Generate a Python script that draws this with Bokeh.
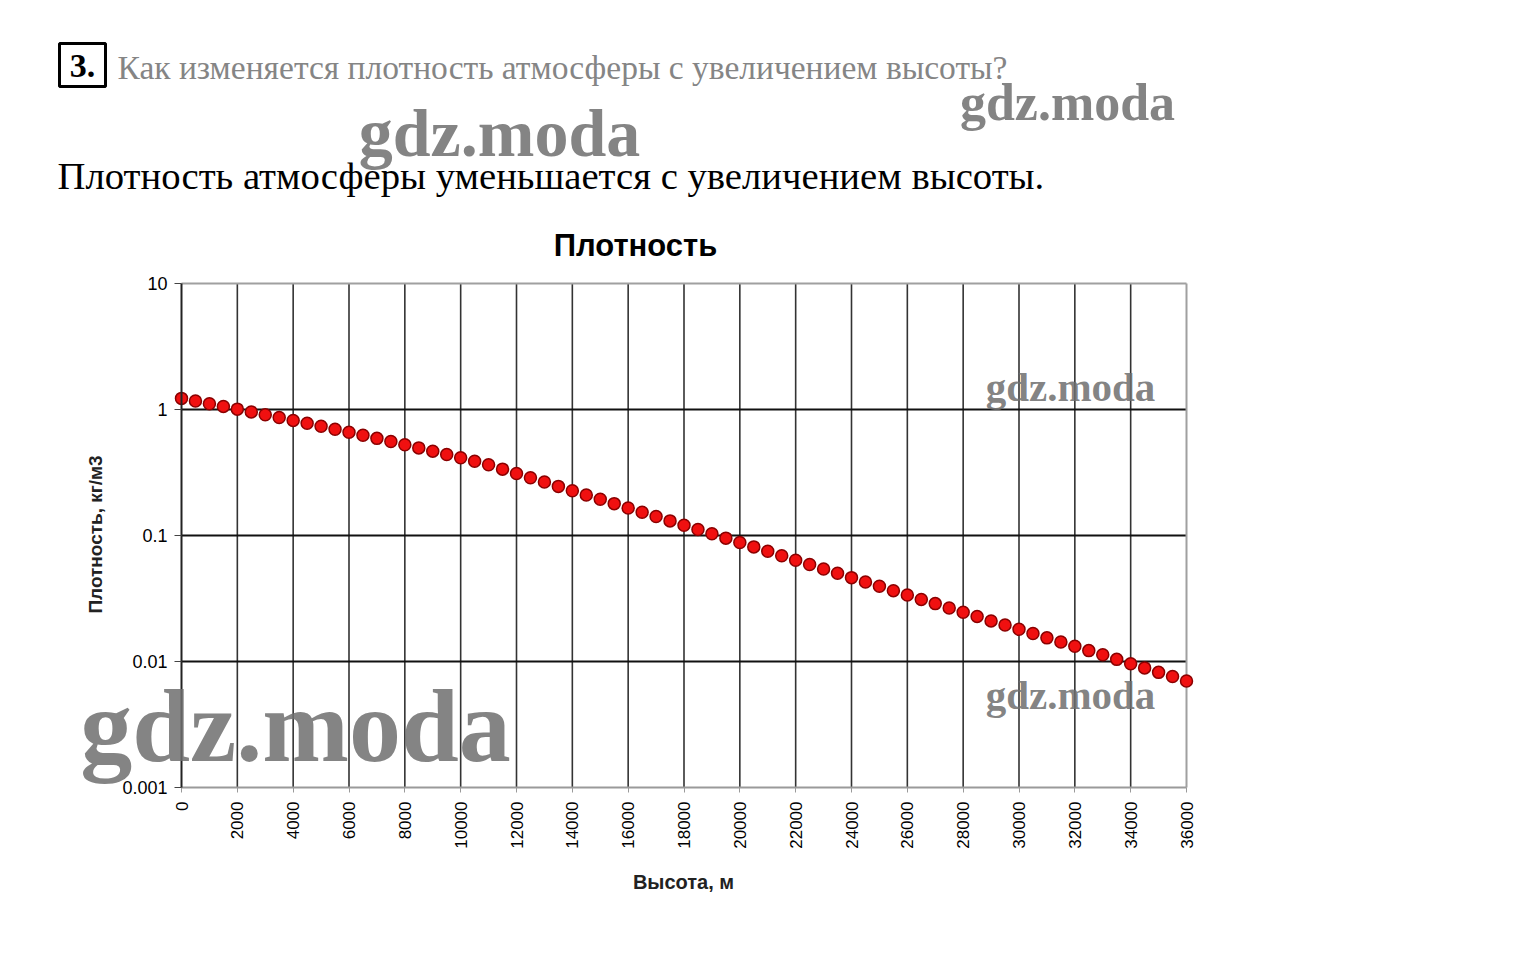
import math
from bokeh.plotting import figure
from bokeh.models import FixedTicker, CustomJSTickFormatter, Label, Range1d, ColumnDataSource
from bokeh.core.properties import value
from bokeh.embed import file_html
from bokeh.resources import INLINE

# ---- data ----
altitude_m = [0, 500, 1000, 1500, 2000, 2500, 3000, 3500, 4000, 4500, 5000, 5500,
              6000, 6500, 7000, 7500, 8000, 8500, 9000, 9500, 10000, 10500, 11000, 11500,
              12000, 12500, 13000, 13500, 14000, 14500, 15000, 15500, 16000, 16500, 17000, 17500,
              18000, 18500, 19000, 19500, 20000, 20500, 21000, 21500, 22000, 22500, 23000, 23500,
              24000, 24500, 25000, 25500, 26000, 26500, 27000, 27500, 28000, 28500, 29000, 29500,
              30000, 30500, 31000, 31500, 32000, 32500, 33000, 33500, 34000, 34500, 35000, 35500,
              36000]
density_kg_m3 = [1.2250, 1.1673, 1.1117, 1.0581, 1.0066, 0.9569, 0.9093, 0.8634, 0.8194, 0.7770,
                 0.7364, 0.6975, 0.6601, 0.6243, 0.5900, 0.5572, 0.5258, 0.4958, 0.4671, 0.4397,
                 0.4135, 0.3886, 0.3639, 0.3363, 0.3109, 0.2873, 0.2655, 0.2454, 0.2268, 0.2096,
                 0.1937, 0.1790, 0.1655, 0.1529, 0.1413, 0.1306, 0.1207, 0.1116, 0.1031, 0.0953,
                 0.0881, 0.0812, 0.0749, 0.0691, 0.0637, 0.0588, 0.0543, 0.0501, 0.0463, 0.0427,
                 0.0395, 0.0365, 0.0337, 0.0311, 0.0288, 0.0266, 0.0246, 0.0228, 0.0210, 0.0195,
                 0.0180, 0.0167, 0.0154, 0.0143, 0.0132, 0.0122, 0.0113, 0.0104, 0.0096, 0.0089,
                 0.0082, 0.0076, 0.0070]
x_ticks = [0, 2000, 4000, 6000, 8000, 10000, 12000, 14000, 16000, 18000, 20000, 22000,
           24000, 26000, 28000, 30000, 32000, 34000, 36000]
y_ticks = [0.001, 0.01, 0.1, 1, 10]
x_min, x_max = 0, 36000
y_min, y_max = 0.001, 10

chart_title = "Плотность"
x_label = "Высота, м"
y_label = "Плотность, кг/м3"
task_number = "3."
question = "Как изменяется плотность атмосферы с увеличением высоты?"
answer = "Плотность атмосферы уменьшается с увеличением высоты."
watermark = "gdz.moda"

W = 1524
HH = 270          # header figure height
CH = 692          # chart figure height

# ---------------- header figure (page-pixel coordinates, y downward) ----------------
h = figure(width=W, height=HH, output_backend="svg", toolbar_location=None,
           x_range=Range1d(0, W), y_range=Range1d(HH, 0),
           min_border=0, min_border_left=0, min_border_right=0, min_border_top=0, min_border_bottom=0)
h.axis.visible = False
h.grid.visible = False
h.outline_line_color = None
h.background_fill_color = "white"
h.border_fill_color = "white"


def htext(txt, X, Y, size, color="black", font="Liberation Serif", style="normal",
          align="left", alpha=1.0):
    h.text(x=[X], y=[Y], text=[txt], text_font=value(font), text_font_size=f"{size}px",
           text_color=color, text_font_style=style, text_align=align,
           text_baseline="middle", text_alpha=alpha)


h.quad(left=[59], right=[105], top=[43], bottom=[86], fill_color=None,
       line_color="black", line_width=3)
htext(task_number, 82, 65, 34, style="bold", align="center")
htext(question, 117, 67, 33.5, color="#858585")
htext(watermark, 499, 132, 68, color="#6e6e6e", style="bold", align="center", alpha=0.85)
htext(watermark, 1067, 102, 52, color="#6e6e6e", style="bold", align="center", alpha=0.85)
htext(answer, 57, 175, 38.7)
htext(chart_title, 635, 245, 31, font="Liberation Sans", style="bold", align="center")

# ---------------- chart figure ----------------
# page-pixel layout of the plot box; the frame covers the whole chart figure
BOX_L, BOX_R, BOX_T, BOX_B = 181, 1186, 283, 787
FL, FR, FT, FB = 0, W, HH, HH + CH
px_per_x = (BOX_R - BOX_L) / (x_max - x_min)
px_per_dec = (BOX_B - BOX_T) / (math.log10(y_max) - math.log10(y_min))
xr = Range1d(x_min - (BOX_L - FL) / px_per_x, x_max + (FR - BOX_R) / px_per_x)
yr = Range1d(10 ** (math.log10(y_min) - (FB - BOX_B) / px_per_dec),
             10 ** (math.log10(y_max) + (BOX_T - FT) / px_per_dec))

p = figure(width=W, height=CH, output_backend="svg", toolbar_location=None,
           y_axis_type="log", x_range=xr, y_range=yr,
           min_border=0, min_border_left=0, min_border_top=0, min_border_right=0,
           min_border_bottom=0)
p.background_fill_color = "white"
p.border_fill_color = "white"
p.outline_line_color = None
p.xgrid.visible = False
p.ygrid.visible = False

# grid lines and plot box, limited to the plot box
inner_x = x_ticks[1:-1]
inner_y = y_ticks[1:-1]
p.segment(x0=inner_x, x1=inner_x, y0=[y_min] * len(inner_x), y1=[y_max] * len(inner_x),
          line_color="#333333", line_width=1.6)
p.segment(x0=[x_min] * len(inner_y), x1=[x_max] * len(inner_y), y0=inner_y, y1=inner_y,
          line_color="#111111", line_width=1.8)
p.segment(x0=[x_min, x_max], x1=[x_max, x_max], y0=[y_max, y_min], y1=[y_max, y_max],
          line_color="#a0a0a0", line_width=2)

# axes
p.xaxis.fixed_location = y_min
p.xaxis.bounds = (x_min, x_max)
p.xaxis.ticker = FixedTicker(ticks=x_ticks)
p.xaxis.major_label_orientation = math.pi / 2
p.xaxis.minor_tick_line_color = None
p.xaxis.axis_line_color = "#9a9a9a"
p.xaxis.axis_line_width = 2
p.xaxis.major_tick_line_color = "#9a9a9a"
p.xaxis.major_tick_out = 5
p.xaxis.major_tick_in = 0
p.xaxis.major_label_text_font = "Liberation Sans"
p.xaxis.major_label_text_font_size = "17px"
p.xaxis.major_label_text_color = "black"
p.xaxis.major_label_standoff = 9

p.yaxis.fixed_location = x_min
p.yaxis.bounds = (y_min, y_max)
p.yaxis.ticker = FixedTicker(ticks=y_ticks, minor_ticks=[])
p.yaxis.formatter = CustomJSTickFormatter(code="return tick.toString();")
p.yaxis.axis_line_color = "#222222"
p.yaxis.axis_line_width = 2
p.yaxis.major_tick_line_color = "#444444"
p.yaxis.major_tick_out = 7
p.yaxis.major_tick_in = 0
p.yaxis.minor_tick_line_color = None
p.yaxis.major_label_text_font = "Liberation Sans"
p.yaxis.major_label_text_font_size = "18px"
p.yaxis.major_label_text_color = "black"
p.yaxis.major_label_standoff = 7

src = ColumnDataSource(data=dict(x=altitude_m, y=density_kg_m3))
p.scatter("x", "y", source=src, size=12, fill_color="#f01010", line_color="#8a0000", line_width=1.5)


def screen_label(txt, X, Y, size, font="Liberation Sans", color="#222222", style="bold",
                 angle=0.0, alpha=1.0):
    # screen units: measured from the frame's bottom-left corner
    p.add_layout(Label(x=X - FL, y=FB - Y, x_units="screen", y_units="screen", text=txt,
                       text_font=font, text_font_size=f"{size}px", text_color=color,
                       text_font_style=style, text_align="center", text_baseline="middle",
                       angle=angle, text_alpha=alpha))


# axis titles
screen_label(x_label, 683, 881, 20)
screen_label(y_label, 95, 534, 19, angle=math.pi / 2)

# watermarks
for (X, Y, s) in [(1070, 386, 41), (1070, 694, 41), (295, 725, 104)]:
    screen_label(watermark, X, Y, s, font="Liberation Serif", color="#6e6e6e", alpha=0.85)

open("out.html", "w").write(file_html([h, p], INLINE))
